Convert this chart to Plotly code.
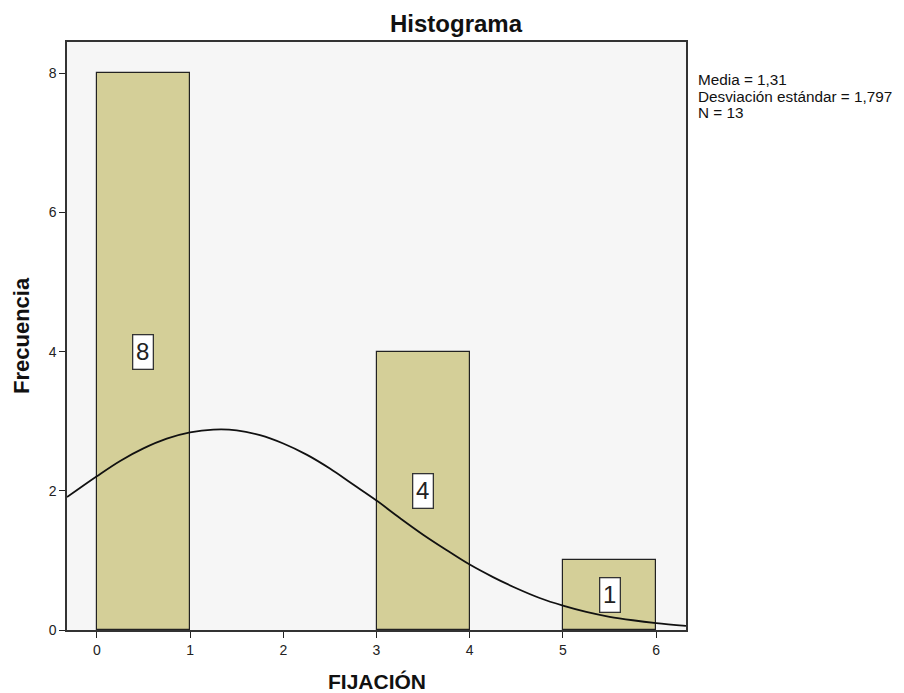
import plotly.graph_objects as go

# Data
bin_centers = [0.5, 3.5, 5.5]
counts = [8, 4, 1]
count_labels = ["8", "4", "1"]
curve_x = [-0.32, 0.0, 0.25, 0.5, 0.75, 1.0, 1.25, 1.5, 1.75, 2.0, 2.25, 2.5, 2.75, 3.0,
           3.25, 3.5, 3.75, 4.0, 4.25, 4.5, 4.75, 5.0, 5.25, 5.5, 5.75, 6.0, 6.32]
curve_y = [1.91, 2.21, 2.43, 2.61, 2.75, 2.84, 2.88, 2.87, 2.80, 2.68, 2.52, 2.32, 2.09, 1.86,
           1.61, 1.37, 1.15, 0.94, 0.76, 0.60, 0.46, 0.35, 0.26, 0.19, 0.14, 0.10, 0.06]
x_ticks = [0, 1, 2, 3, 4, 5, 6]
y_ticks = [0, 2, 4, 6, 8]
stats_lines = ["Media = 1,31", "Desviación estándar = 1,797", "N = 13"]

FONT = "Liberation Sans, Arial, sans-serif"
W, H = 904, 693
OFF = 8  # page offset of the figure inside the browser window
L, T = 67 - OFF, 42 - OFF
PW, PH = 619, 588
R, B = W - L - PW, H - T - PH


def px_x(px):
    return (px - OFF - L) / PW


def px_y(py):
    return (T + PH - (py - OFF)) / PH


fig = go.Figure()
fig.add_trace(go.Bar(
    x=bin_centers, y=counts, width=1,
    marker=dict(color="rgb(212,207,152)", line=dict(color="#222222", width=1.2)),
    hoverinfo="x+y", showlegend=False,
))
fig.add_trace(go.Scatter(
    x=curve_x, y=curve_y, mode="lines", line=dict(color="#111111", width=1.8, shape="spline"),
    showlegend=False,
))
for xc, c, lab in zip(bin_centers, counts, count_labels):
    fig.add_annotation(
        x=xc, y=c / 2, text=lab, showarrow=False,
        font=dict(family=FONT, size=24, color="#222222"),
        width=17, height=31,
        bgcolor="white", bordercolor="#333333", borderwidth=1.3, borderpad=1,
    )

for i, line in enumerate(stats_lines):
    fig.add_annotation(
        xref="paper", yref="paper", x=px_x(696), y=px_y(80 + 16 * i),
        xanchor="left", yanchor="middle",
        text=line, showarrow=False, align="left",
        font=dict(family=FONT, size=15.3, color="#111111"),
    )

# axis titles
fig.add_annotation(
    xref="paper", yref="paper", x=0.5, y=px_y(681), xanchor="center", yanchor="middle",
    text="<b>FIJACIÓN</b>", showarrow=False,
    font=dict(family=FONT, size=21, color="#111111"),
)
fig.add_annotation(
    xref="paper", yref="paper", x=px_x(21), y=px_y(336), xanchor="center", yanchor="middle",
    text="<b>Frecuencia</b>", showarrow=False, textangle=-90,
    font=dict(family=FONT, size=22, color="#111111"),
)

fig.update_layout(
    width=W, height=H,
    margin=dict(l=L, r=R, t=T, b=B),
    paper_bgcolor="white", plot_bgcolor="rgb(246,246,246)",
    bargap=0,
    title=dict(text="<b>Histograma</b>", x=(456 - OFF) / W, xanchor="center", y=1 - (24 - OFF) / H,
               yanchor="middle",
               font=dict(family=FONT, size=24, color="#111111")),
    font=dict(family=FONT, size=14, color="#222222"),
)
fig.update_xaxes(
    range=[-0.32, 6.32], tickvals=x_ticks, ticktext=[str(v) for v in x_ticks],
    ticks="outside", ticklen=6, tickcolor="#222222", tickwidth=1.3, showgrid=False, zeroline=False,
    showline=True, linecolor="#333333", linewidth=1.5, mirror=True, automargin=False,
    tickfont=dict(family=FONT, size=14, color="#222222"),
)
fig.update_yaxes(
    range=[0, 8.45], tickvals=y_ticks, ticktext=[str(v) for v in y_ticks],
    ticks="outside", ticklen=6, tickcolor="#222222", tickwidth=1.3, showgrid=False, zeroline=False,
    showline=True, linecolor="#333333", linewidth=1.5, mirror=True, automargin=False,
    tickfont=dict(family=FONT, size=14, color="#222222"),
)

fig.write_html("out.html")
